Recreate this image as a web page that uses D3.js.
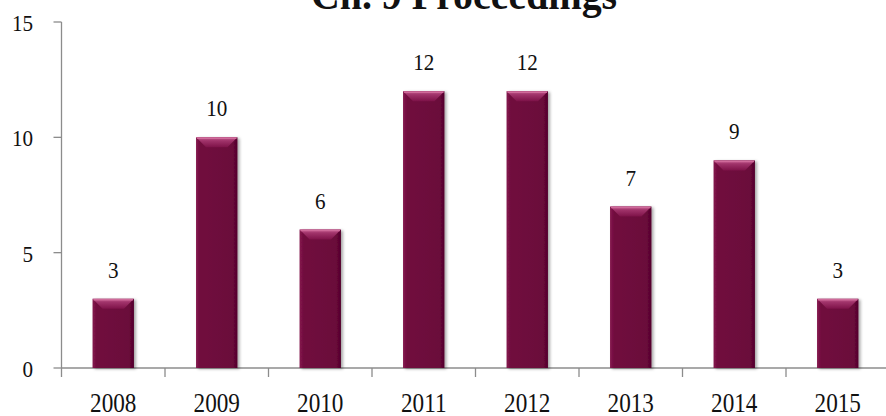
<!DOCTYPE html>
<html>
<head>
<meta charset="utf-8">
<script src="https://cdn.jsdelivr.net/npm/d3@7"></script>
<style>
  body { margin: 0; background: #fff; }
  text { font-family: "Liberation Serif", "Times New Roman", serif; fill: #111; }
</style>
</head>
<body>
<div id="chart-area"></div>
<script>
// chart data
const years = ["2008", "2009", "2010", "2011", "2012", "2013", "2014", "2015"];
const counts = [3, 10, 6, 12, 12, 7, 9, 3];
const yTicks = [0, 5, 10, 15];
const title = "Ch. 9 Proceedings";

const W = 886, H = 416;
const plotLeft = 61.5, plotRight = 889.5, plotTop = 22, plotBottom = 368;

const svg = d3.select("#chart-area")
	.append("svg")
		.attr("width", W)
		.attr("height", H);

const defs = svg.append("defs");
const topGrad = defs.append("linearGradient")
	.attr("id", "bevelTop").attr("x1", 0).attr("y1", 0).attr("x2", 0).attr("y2", 1);
topGrad.append("stop").attr("offset", "0%").attr("stop-color", "#c25a8c");
topGrad.append("stop").attr("offset", "35%").attr("stop-color", "#a0336a");
topGrad.append("stop").attr("offset", "100%").attr("stop-color", "#7d1248");

const bodyGrad = defs.append("linearGradient")
	.attr("id", "bevelBody").attr("x1", 0).attr("y1", 0).attr("x2", 1).attr("y2", 0);
bodyGrad.append("stop").attr("offset", "0%").attr("stop-color", "#85184e");
bodyGrad.append("stop").attr("offset", "10%").attr("stop-color", "#700b3e");
bodyGrad.append("stop").attr("offset", "88%").attr("stop-color", "#6b083a");
bodyGrad.append("stop").attr("offset", "100%").attr("stop-color", "#52042c");

const filt = defs.append("filter").attr("id", "shadow")
	.attr("x", "-20%").attr("y", "-10%").attr("width", "150%").attr("height", "130%");
filt.append("feDropShadow").attr("dx", 2).attr("dy", 1).attr("stdDeviation", 1.5)
	.attr("flood-color", "#000").attr("flood-opacity", 0.35);

// scales
const x = d3.scaleBand()
	.domain(years)
	.range([plotLeft, plotRight])
	.paddingInner(0.6)
	.paddingOuter(0.3);

const y = d3.scaleLinear()
	.domain([0, 15])
	.range([plotBottom, plotTop]);

const step = x.step();
const gap = (step - x.bandwidth()) / 2;

// title (cut off at the top, as in the source)
svg.append("text")
	.attr("transform", "translate(" + (W / 2 + 21) + ", 9) scale(0.95,1)")
	.attr("text-anchor", "middle")
	.style("font-size", "42px")
	.style("font-weight", "bold")
	.text(title);

// y axis
const yAxis = svg.append("g");
yAxis.append("line")
	.attr("x1", plotLeft).attr("x2", plotLeft)
	.attr("y1", y(15)).attr("y2", plotBottom + 9)
	.attr("stroke", "#8c8c8c").attr("stroke-width", 1.3);

yAxis.selectAll(".ytick")
	.data(yTicks)
	.enter()
	.append("line")
		.attr("x1", plotLeft - 8).attr("x2", plotLeft)
		.attr("y1", d => y(d)).attr("y2", d => y(d))
		.attr("stroke", "#8c8c8c").attr("stroke-width", 1.3);

yAxis.selectAll(".ylabel")
	.data(yTicks)
	.enter()
	.append("text")
		.attr("transform", d => "translate(33, " + (y(d) + 9) + ") scale(0.88,1)")
		.attr("text-anchor", "end")
		.style("font-size", "24px")
		.text(d => d);

// x axis
const xAxis = svg.append("g");
xAxis.append("line")
	.attr("x1", plotLeft).attr("x2", W)
	.attr("y1", plotBottom).attr("y2", plotBottom)
	.attr("stroke", "#8c8c8c").attr("stroke-width", 1.3);

xAxis.selectAll(".xtick")
	.data(years.slice(1))
	.enter()
	.append("line")
		.attr("x1", d => x(d) - gap).attr("x2", d => x(d) - gap)
		.attr("y1", plotBottom).attr("y2", plotBottom + 9)
		.attr("stroke", "#8c8c8c").attr("stroke-width", 1.3);

xAxis.selectAll(".xlabel")
	.data(years)
	.enter()
	.append("text")
		.attr("transform", d => "translate(" + (x(d) + x.bandwidth() / 2) + ", 412) scale(0.86,1)")
		.attr("text-anchor", "middle")
		.style("font-size", "27px")
		.text(d => d);

// bars
const data = years.map((yr, i) => ({ year: yr, count: counts[i] }));
const bev = 10;

const bars = svg.selectAll(".bar")
	.data(data)
	.enter()
	.append("g")
		.attr("class", "bar");

bars.append("rect")
	.attr("x", d => x(d.year))
	.attr("y", d => y(d.count))
	.attr("width", x.bandwidth())
	.attr("height", d => plotBottom - y(d.count))
	.attr("fill", "url(#bevelBody)")
	.attr("filter", "url(#shadow)");

// bevelled top face
bars.append("polygon")
	.attr("points", d => {
		const x0 = x(d.year), x1 = x0 + x.bandwidth(), t = y(d.count);
		return [[x0, t], [x1, t], [x1 - bev, t + bev], [x0 + bev, t + bev]].join(" ");
	})
	.attr("fill", "url(#bevelTop)");

// thin highlight on the top edge
bars.append("line")
	.attr("x1", d => x(d.year) + 1)
	.attr("x2", d => x(d.year) + x.bandwidth() - 1)
	.attr("y1", d => y(d.count) + 1)
	.attr("y2", d => y(d.count) + 1)
	.attr("stroke", "#cf6a9a")
	.attr("stroke-width", 1.5);

// value labels
svg.selectAll(".value")
	.data(data)
	.enter()
	.append("text")
		.attr("transform", d => "translate(" + (x(d.year) + x.bandwidth() / 2) + ", " + (y(d.count) - 21) + ") scale(0.88,1)")
		.attr("text-anchor", "middle")
		.style("font-size", "24px")
		.text(d => d.count);
</script>
</body>
</html>
